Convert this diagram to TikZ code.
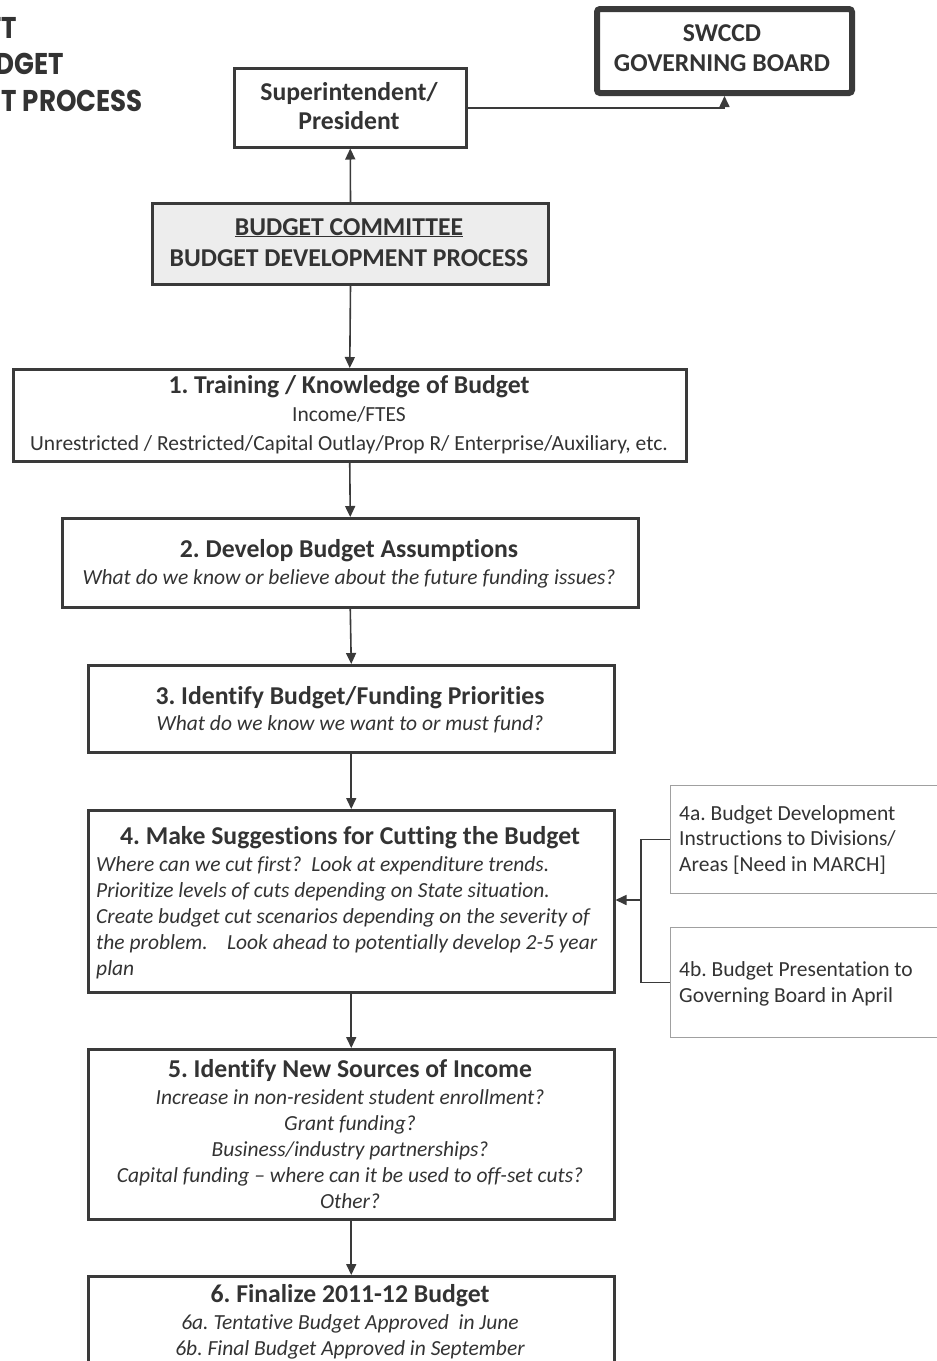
\documentclass[tikz,border=0pt]{standalone}
\usepackage{fontspec}
\setmainfont{Carlito}[Ligatures={NoCommon}]
\newfontfamily\titlefont{Poppins}[FakeStretch=0.87]
\usetikzlibrary{arrows.meta}
\definecolor{txt}{HTML}{333333}
\definecolor{edge}{HTML}{3A3A3A}
\definecolor{sidegray}{HTML}{A0A0A0}
\frenchspacing
\tikzset{
  box/.style={draw=edge, line width=2.5pt, fill=white, anchor=north west, inner sep=0pt},
  sidebox/.style={draw=sidegray, line width=0.9pt, anchor=north west, inner sep=0pt},
  conn/.style={draw=edge, line width=1.6pt},
  arr/.style={conn, -{Triangle[length=11pt,width=10pt]}},
  head/.style={anchor=base, text=txt, inner sep=0pt, font=\fontsize{25.7}{30}\selectfont\bfseries},
  body/.style={anchor=base, text=txt, inner sep=0pt, font=\fontsize{21.5}{25}\selectfont},
  ibody/.style={anchor=base, text=txt, inner sep=0pt, font=\fontsize{21.5}{25}\selectfont\itshape},
  sbody/.style={anchor=base west, text=txt, inner sep=0pt, font=\fontsize{21.5}{25}\selectfont},
  ttl/.style={anchor=base east, text=txt, inner sep=0pt, font=\fontsize{30}{34}\selectfont\titlefont\bfseries},
}
\begin{document}
\begin{tikzpicture}[x=1pt,y=-1pt]
\clip (0,0) rectangle (937,1361);
\fill[white] (0,0) rectangle (937,1361);

% title (cut off at the left edge)
\node[ttl] (t1) at (17,38) {FT};
\node[ttl] (t2) at (64,74) {DGET};
\node[ttl] (t3) at (143,111) {T PROCESS};

% boxes
\node[box, minimum width=232pt, minimum height=79pt] (sup) at (233,67) {};
\node[box, line width=6pt, rounded corners=3pt, minimum width=255pt, minimum height=84pt] (gov) at (594,6) {};
\node[box, fill=black!7, line width=3pt, minimum width=396pt, minimum height=81pt] (bc) at (151,202) {};
\node[box, minimum width=673pt, minimum height=92pt] (b1) at (12,368) {};
\node[box, minimum width=576pt, minimum height=89pt] (b2) at (61,517) {};
\node[box, minimum width=526pt, minimum height=87pt] (b3) at (87,664) {};
\node[box, minimum width=526pt, minimum height=182pt] (b4) at (87,809) {};
\node[box, minimum width=526pt, minimum height=170pt] (b5) at (87,1048) {};
\node[box, minimum width=526pt, minimum height=110pt] (b6) at (87,1275) {};
\node[sidebox, minimum width=300pt, minimum height=108pt] (s4a) at (670,785) {};
\node[sidebox, minimum width=300pt, minimum height=110pt] (s4b) at (670,927) {};

% texts
\node[head] (supt1) at (349,100) {Superintendent/};
\node[head] (supt2) at (349,129) {President};
\node[head] (govt1) at (722,41) {SWCCD};
\node[head] (govt2) at (722,71) {GOVERNING BOARD};
\node[head] (bct1) at (349,235) {\underline{BUDGET COMMITTEE}};
\node[head] (bct2) at (349,266) {BUDGET DEVELOPMENT PROCESS};

\node[head] (b1t) at (349,393) {1. Training / Knowledge of Budget};
\node[body] (b1a) at (349,421) {Income/FTES};
\node[body] (b1b) at (349,450) {Unrestricted / Restricted/Capital Outlay/Prop R/ Enterprise/Auxiliary, etc.};

\node[head] (b2t) at (349,557) {2. Develop Budget Assumptions};
\node[ibody] (b2a) at (349,584) {What do we know or believe about the future funding issues?};

\node[head] (b3t) at (350,704) {3. Identify Budget/Funding Priorities};
\node[ibody] (b3a) at (350,730) {What do we know we want to or must fund?};

\node[head] (b4t) at (350,844) {4. Make Suggestions for Cutting the Budget};
\node[ibody, anchor=base west] (b4a) at (96,871) {Where can we cut first?\ \ Look at expenditure trends.};
\node[ibody, anchor=base west] (b4b) at (96,897) {Prioritize levels of cuts depending on State situation.};
\node[ibody, anchor=base west] (b4c) at (96,923) {Create budget cut scenarios depending on the severity of};
\node[ibody, anchor=base west] (b4d) at (96,949) {the problem.\ \ \ \ Look ahead to potentially develop 2-5 year};
\node[ibody, anchor=base west] (b4e) at (96,975) {plan};

\node[head] (b5t) at (350,1077) {5. Identify New Sources of Income};
\node[ibody] (b5a) at (350,1104) {Increase in non-resident student enrollment?};
\node[ibody] (b5b) at (350,1130) {Grant funding?};
\node[ibody] (b5c) at (350,1156) {Business/industry partnerships?};
\node[ibody] (b5d) at (350,1182) {Capital funding -- where can it be used to off-set cuts?};
\node[ibody] (b5e) at (350,1208) {Other?};

\node[head] (b6t) at (350,1302) {6. Finalize 2011-12 Budget};
\node[ibody] (b6a) at (350,1329) {6a. Tentative Budget Approved\ \ in June};
\node[ibody] (b6b) at (350,1355) {6b. Final Budget Approved in September};

\node[sbody] (s4at1) at (679,820) {4a. Budget Development};
\node[sbody] (s4at2) at (679,845) {Instructions to Divisions/};
\node[sbody] (s4at3) at (679,871) {Areas [Need in MARCH]};
\node[sbody] (s4bt1) at (679,976) {4b. Budget Presentation to};
\node[sbody] (s4bt2) at (679,1002) {Governing Board in April};

% connectors
\draw[arr] (bc.north) -- (sup.south);
\draw[arr] (sup.east) -| (gov.south);
\draw[arr] (bc.south) -- (b1.north);
\draw[arr] (b1.south) -- (b2.north);
\draw[arr] (b2.south) -- (b3.north);
\draw[arr] (b3.south) -- (b4.north);
\draw[arr] (b4.south) -- (b5.north);
\draw[arr] (b5.south) -- (b6.north);
\coordinate (j) at (641,900);
\draw[conn] (s4a.west) -- (s4a.west -| j) -- (s4b.west -| j) -- (s4b.west);
\draw[arr] (j) -- (j -| b4.east);
\end{tikzpicture}
\end{document}
